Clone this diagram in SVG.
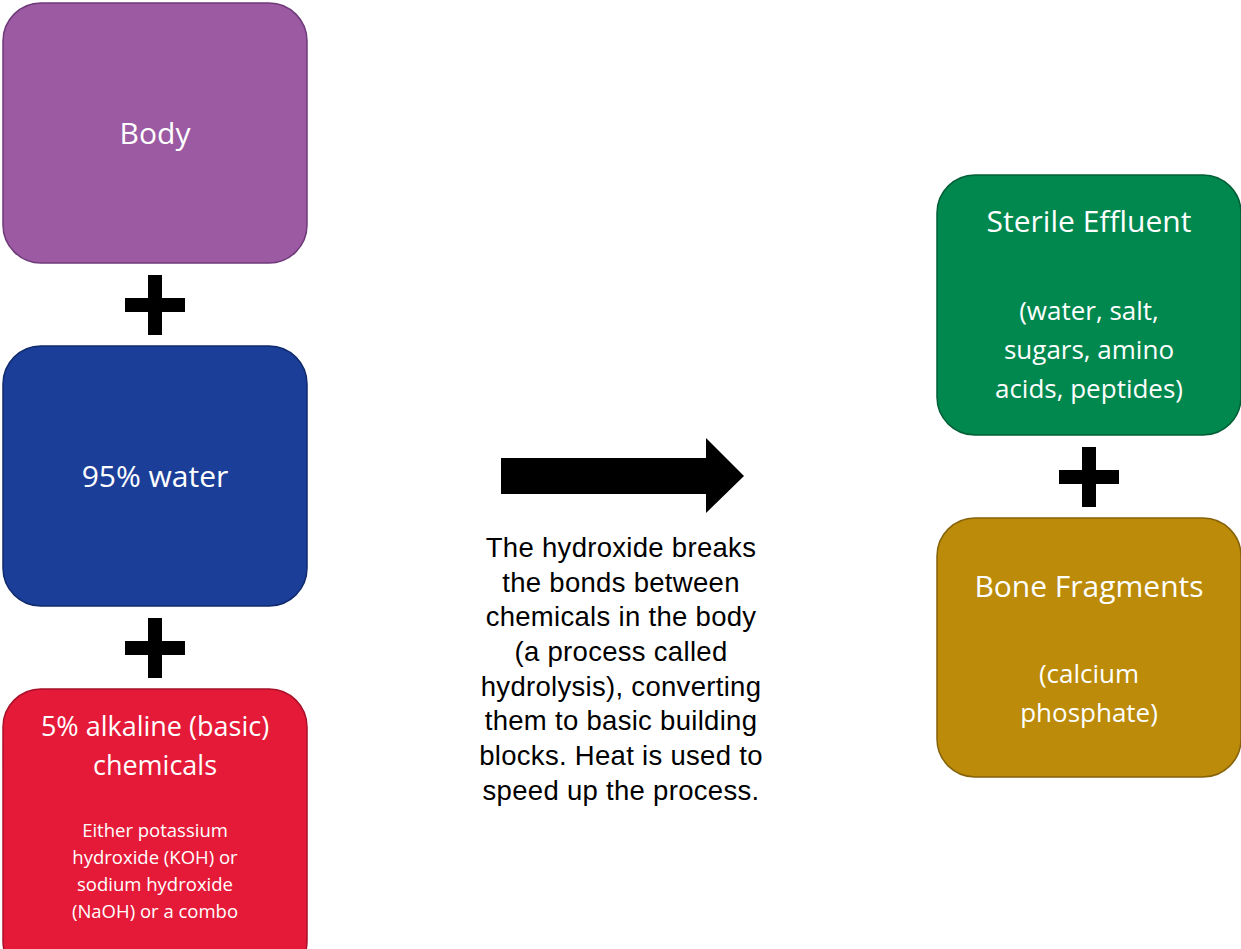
<svg xmlns="http://www.w3.org/2000/svg" width="1241" height="949" viewBox="0 0 1241 949">
<style>
.t{font-family:"Open Sans",Lato,sans-serif;fill:#fff;text-anchor:middle}
.c{font-family:"Liberation Sans",Arial,sans-serif;font-size:27.5px;letter-spacing:0.3px;fill:#000;text-anchor:middle}
</style>
<defs>
<path id="plus" d="M-7,-30h14v23h23v14h-23v23h-14v-23h-23v-14h23z" fill="#000"/>
</defs>
<rect width="1241" height="949" fill="#fff"/>
<g id="body"><rect x="3" y="3" width="304" height="260" rx="38" fill="#9B5AA2" stroke="#6E3A78" stroke-width="1.5"/>
<text class="t" x="155" y="144" font-size="30">Body</text></g>
<g id="water"><rect x="3" y="346" width="304" height="260" rx="38" fill="#1B3F99" stroke="#102A6E" stroke-width="1.5"/>
<text class="t" x="155" y="487" font-size="30">95% water</text></g>
<g id="alkaline"><rect x="3" y="689" width="304" height="290" rx="38" fill="#E51A38" stroke="#A8102A" stroke-width="1.5"/>
<text class="t" x="155" y="736" font-size="27">5% alkaline (basic)</text>
<text class="t" x="155" y="775" font-size="27">chemicals</text>
<text class="t" font-size="18.5"><tspan x="155" y="837">Either potassium</tspan><tspan x="155" y="864">hydroxide (KOH) or</tspan><tspan x="155" y="891">sodium hydroxide</tspan><tspan x="155" y="918">(NaOH) or a combo</tspan></text></g>
<g id="effluent"><rect x="937" y="175" width="304" height="260" rx="38" fill="#00884F" stroke="#005F37" stroke-width="1.5"/>
<text class="t" x="1089" y="232" font-size="30">Sterile Effluent</text>
<text class="t" font-size="26"><tspan x="1089" y="320">(water, salt,</tspan><tspan x="1089" y="359">sugars, amino</tspan><tspan x="1089" y="398">acids, peptides)</tspan></text></g>
<g id="bone"><rect x="937" y="518" width="304" height="259" rx="38" fill="#BB8B09" stroke="#86630A" stroke-width="1.5"/>
<text class="t" x="1089" y="597" font-size="30">Bone Fragments</text>
<text class="t" font-size="26"><tspan x="1089" y="683">(calcium</tspan><tspan x="1089" y="722">phosphate)</tspan></text></g>
<g id="connectors">
<use href="#plus" x="155" y="305"/>
<use href="#plus" x="155" y="648"/>
<use href="#plus" x="1089" y="477"/>
<path d="M501,458H706V438L744,476L706,513V494H501z" fill="#000"/>
</g>
<g id="caption"><text class="c"><tspan x="621" y="557">The hydroxide breaks</tspan><tspan x="621" y="592">the bonds between</tspan><tspan x="621" y="626">chemicals in the body</tspan><tspan x="621" y="661">(a process called</tspan><tspan x="621" y="696">hydrolysis), converting</tspan><tspan x="621" y="730">them to basic building</tspan><tspan x="621" y="765">blocks. Heat is used to</tspan><tspan x="621" y="800">speed up the process.</tspan></text></g>
</svg>
